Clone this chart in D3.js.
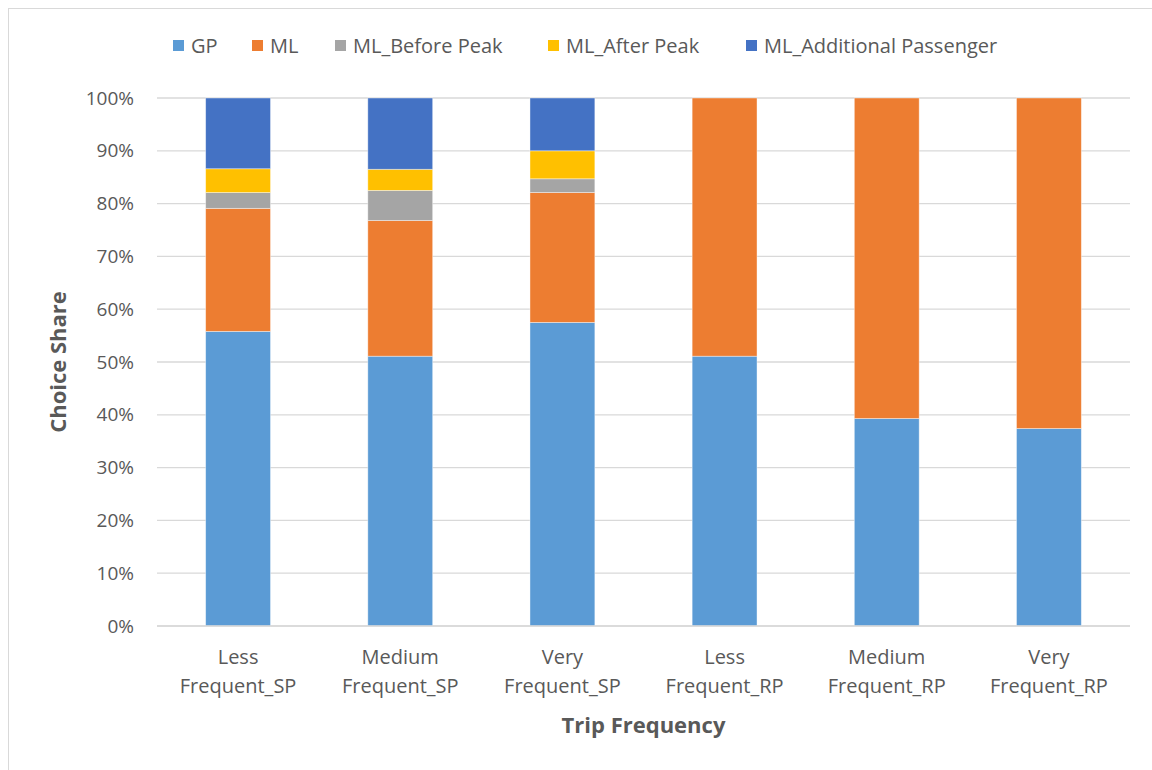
<!DOCTYPE html>
<html>
<head>
<meta charset="utf-8">
<script src="https://cdn.jsdelivr.net/npm/d3@7"></script>
<style>
  html, body { margin: 0; padding: 0; background: #ffffff; }
  svg { display: block; }
</style>
</head>
<body>
<svg id="chart" width="1152" height="770"></svg>
<script>
// Trip-frequency groups (two-line labels)
const categories = [
  "Less Frequent_SP", "Medium Frequent_SP", "Very Frequent_SP",
  "Less Frequent_RP", "Medium Frequent_RP", "Very Frequent_RP"
];
const categoryLines = [
  ["Less", "Frequent_SP"], ["Medium", "Frequent_SP"], ["Very", "Frequent_SP"],
  ["Less", "Frequent_RP"], ["Medium", "Frequent_RP"], ["Very", "Frequent_RP"]
];

// Choice shares (%) per series, one value per category
const seriesNames = ["GP", "ML", "ML_Before Peak", "ML_After Peak", "ML_Additional Passenger"];
const gp           = [55.8, 51.1, 57.5, 51.1, 39.3, 37.4];
const ml           = [23.3, 25.7, 24.6, 48.9, 60.7, 62.6];
const beforePeak   = [3.0, 5.7, 2.6, 0, 0, 0];
const afterPeak    = [4.5, 4.0, 5.3, 0, 0, 0];
const additional   = [13.4, 13.5, 10.0, 0, 0, 0];
const seriesColors = ["#5B9BD5", "#ED7D31", "#A5A5A5", "#FFC000", "#4472C4"];

const yTicks = [0, 10, 20, 30, 40, 50, 60, 70, 80, 90, 100];

const seriesValues = [gp, ml, beforePeak, afterPeak, additional];
const rows = categories.map((c, i) => {
  const r = { category: c };
  seriesNames.forEach((s, k) => { r[s] = seriesValues[k][i]; });
  return r;
});

const svg = d3.select("#chart");
const textColor = "#595959";
const font = "'Open Sans', 'Liberation Sans', sans-serif";

// Chart frame
svg.append("rect")
  .attr("x", 8.5).attr("y", 8.5)
  .attr("width", 1160).attr("height", 800)
  .attr("fill", "none").attr("stroke", "#d9d9d9").attr("stroke-width", 1);

const plot = { left: 157, right: 1130, top: 98, bottom: 626 };

const x = d3.scaleBand()
  .domain(categories)
  .range([plot.left, plot.right])
  .paddingInner(0.6)
  .paddingOuter(0.3);

const y = d3.scaleLinear()
  .domain([0, 100])
  .range([plot.bottom, plot.top]);

// Gridlines
svg.append("g")
  .selectAll("line")
  .data(yTicks)
  .join("line")
  .attr("x1", plot.left).attr("x2", plot.right)
  .attr("y1", d => y(d)).attr("y2", d => y(d))
  .attr("stroke", "#d9d9d9").attr("stroke-width", 1.3);

// Y axis tick labels
const yAxis = d3.axisLeft(y).tickValues(yTicks).tickFormat(d => d + "%").tickSize(0).tickPadding(0);
const yAxisG = svg.append("g")
  .attr("transform", `translate(${plot.left - 23},0)`)
  .call(yAxis);
yAxisG.select(".domain").remove();
yAxisG.selectAll("text")
  .attr("fill", textColor)
  .style("font-family", font)
  .style("font-size", "19px");

// Stacked bars
const stack = d3.stack().keys(seriesNames);
const stacked = stack(rows);

svg.append("g")
  .selectAll("g")
  .data(stacked)
  .join("g")
  .attr("fill", (d, i) => seriesColors[i])
  .selectAll("rect")
  .data(d => d.filter(p => p[1] - p[0] > 0))
  .join("rect")
  .attr("x", d => x(d.data.category))
  .attr("width", x.bandwidth())
  .attr("y", d => y(d[1]))
  .attr("height", d => y(d[0]) - y(d[1]))
  .attr("stroke", "#ffffff")
  .attr("stroke-opacity", 0.5)
  .attr("stroke-width", 0.8);

// X axis line
svg.append("line")
  .attr("x1", plot.left).attr("x2", plot.right)
  .attr("y1", y(0)).attr("y2", y(0))
  .attr("stroke", "#d9d9d9").attr("stroke-width", 1.3);

// X axis labels (two lines)
const xLab = svg.append("g")
  .selectAll("text")
  .data(categories)
  .join("text")
  .attr("x", d => x(d) + x.bandwidth() / 2)
  .attr("y", 664)
  .attr("text-anchor", "middle")
  .attr("fill", textColor)
  .style("font-family", font)
  .style("font-size", "20px");
xLab.each(function(d, i) {
  const t = d3.select(this);
  categoryLines[i].forEach((line, j) => {
    t.append("tspan")
      .attr("x", x(d) + x.bandwidth() / 2)
      .attr("dy", j === 0 ? 0 : 29)
      .text(line);
  });
});

// Axis titles
svg.append("text")
  .attr("x", (plot.left + plot.right) / 2)
  .attr("y", 733)
  .attr("text-anchor", "middle")
  .attr("fill", textColor)
  .style("font-family", font)
  .style("font-size", "22px")
  .style("font-weight", "bold")
  .text("Trip Frequency");

svg.append("text")
  .attr("transform", `translate(66,${(plot.top + plot.bottom) / 2}) rotate(-90)`)
  .attr("text-anchor", "middle")
  .attr("fill", textColor)
  .style("font-family", font)
  .style("font-size", "22px")
  .style("font-weight", "bold")
  .text("Choice Share");

// Legend
const legendX = [173, 252, 335, 548, 746];
const legend = svg.append("g")
  .selectAll("g")
  .data(seriesNames)
  .join("g")
  .attr("transform", (d, i) => `translate(${legendX[i]},45)`);
legend.append("rect")
  .attr("x", 0).attr("y", -5)
  .attr("width", 11).attr("height", 11)
  .attr("fill", (d, i) => seriesColors[i]);
legend.append("text")
  .attr("x", 18).attr("y", 0)
  .attr("dominant-baseline", "central")
  .attr("fill", textColor)
  .style("font-family", font)
  .style("font-size", "20px")
  .text(d => d);
</script>
</body>
</html>
